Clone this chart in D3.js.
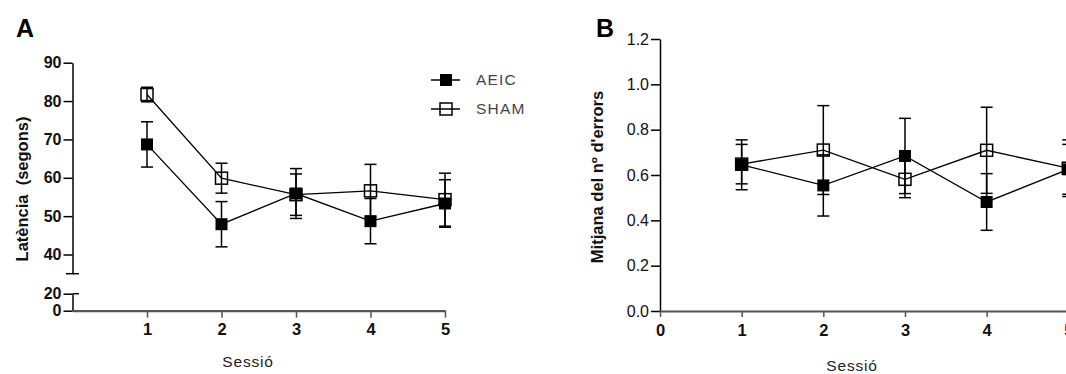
<!DOCTYPE html>
<html>
<head>
<meta charset="utf-8">
<script src="https://cdn.jsdelivr.net/npm/d3@7"></script>
<style>
  body { margin: 0; background: #fff; }
  svg { display: block; font-family: Arial, "Liberation Sans", Helvetica, sans-serif; }
  .axis text { fill: #111; }
</style>
</head>
<body>
<svg width="1066" height="374"></svg>
<script>
// sessions and group means (+/- SEM)
const sessions = [1, 2, 3, 4, 5];

const aeicLat = [68.7, 47.9, 55.9, 48.7, 53.3];
const aeicLatSem = [5.9, 5.9, 6.5, 5.9, 6.2];
const shamLat = [81.7, 59.9, 55.6, 56.6, 54.3];
const shamLatSem = [1.9, 3.9, 5.4, 6.9, 6.9];

const aeicErr = [0.645, 0.554, 0.684, 0.481, 0.625];
const aeicErrSem = [0.11, 0.135, 0.166, 0.125, 0.11];
const shamErr = [0.648, 0.710, 0.581, 0.709, 0.63];
const shamErrSem = [0.087, 0.196, 0.081, 0.19, 0.125];

const latTicksHi = [40, 50, 60, 70, 80, 90];
const latTicksLo = [0, 20];
const errTicks = [0, 0.2, 0.4, 0.6, 0.8, 1.0, 1.2];
const groups = ["AEIC", "SHAM"];

const svg = d3.select("svg");
const axisGrey = "#555";

function series(vals, sems) {
  return sessions.map((s, i) => ({ s: s, v: vals[i], e: sems[i] }));
}

// draws error bars, connecting line and squares for one group
function drawGroup(g, data, x, y, filled) {
  const eb = g.append("g");
  data.forEach(d => {
    eb.append("line").attr("x1", x(d.s)).attr("x2", x(d.s))
      .attr("y1", y(d.v - d.e)).attr("y2", y(d.v + d.e))
      .attr("stroke", "#000").attr("stroke-width", 1.5);
    [d.v - d.e, d.v + d.e].forEach(c => {
      eb.append("line").attr("x1", x(d.s) - 6).attr("x2", x(d.s) + 6)
        .attr("y1", y(c)).attr("y2", y(c))
        .attr("stroke", "#000").attr("stroke-width", 1.5);
    });
  });
  g.append("path").datum(data)
    .attr("fill", "none").attr("stroke", "#000").attr("stroke-width", 1.3)
    .attr("d", d3.line().x(d => x(d.s)).y(d => y(d.v)));
  g.selectAll(".pt").data(data).enter().append("rect")
    .attr("class", "pt")
    .attr("x", d => x(d.s) - 6).attr("y", d => y(d.v) - 6)
    .attr("width", 12).attr("height", 12)
    .attr("fill", filled ? "#000" : "none")
    .attr("stroke", "#000").attr("stroke-width", filled ? 0 : 1.5);
}

function styleAxis(sel, col, w) {
  sel.select(".domain").attr("stroke", col).attr("stroke-width", w);
  sel.selectAll(".tick line").attr("stroke", col).attr("stroke-width", 1.5);
}

// ---------- panel A: latency ----------
const xA = d3.scaleLinear().domain([0, 5]).range([72.5, 445]);
const yHi = d3.scaleLinear().domain([35, 90]).range([273.7, 62.7]);
const yLo = d3.scaleLinear().domain([0, 20]).range([310.7, 293.7]);

const yLat = v => v >= 35 ? yHi(v) : yLo(v);

const gA = svg.append("g");

gA.append("g").attr("class", "axis")
  .attr("transform", "translate(72.5,0)")
  .call(d3.axisLeft(yHi).tickValues(latTicksHi).tickSize(9).tickSizeOuter(0).tickPadding(2))
  .call(s => styleAxis(s, "#000", 1.5))
  .call(s => s.selectAll("text").attr("font-size", 16).attr("font-weight", "bold"));

gA.append("g").attr("class", "axis")
  .attr("transform", "translate(72.5,0)")
  .call(d3.axisLeft(yLo).tickValues(latTicksLo).tickSize(9).tickSizeOuter(0).tickPadding(2))
  .call(s => styleAxis(s, "#000", 1.5))
  .call(s => s.selectAll("text").attr("font-size", 16).attr("font-weight", "bold"));

// break marks on the y axis
gA.append("line").attr("x1", 66).attr("x2", 79)
  .attr("y1", yHi(35)).attr("y2", yHi(35)).attr("stroke", "#000").attr("stroke-width", 1.5);
gA.append("line").attr("x1", 72.5).attr("x2", 79)
  .attr("y1", yLo(20)).attr("y2", yLo(20)).attr("stroke", "#000").attr("stroke-width", 1.5);

gA.append("g").attr("class", "axis")
  .attr("transform", "translate(0," + yLo(0) + ")")
  .call(d3.axisBottom(xA).tickValues(sessions).tickFormat(d3.format("d"))
    .tickSize(7).tickSizeOuter(0).tickPadding(6))
  .call(s => styleAxis(s, axisGrey, 2.2))
  .call(s => s.selectAll("text").attr("font-size", 16.5).attr("font-weight", "bold"));

gA.append("text").attr("transform", "translate(22,189) rotate(-90)")
  .attr("text-anchor", "middle").attr("dy", "0.35em")
  .attr("font-size", 16.5).attr("font-weight", "bold").attr("fill", "#111")
  .attr("xml:space", "preserve")
  .text("Latència  (segons)");

gA.append("text").attr("x", 248).attr("y", 362).attr("dy", "0.35em")
  .attr("text-anchor", "middle").attr("font-size", 15.5).attr("fill", "#222")
  .attr("letter-spacing", 0.8)
  .text("Sessió");

gA.append("text").attr("x", 25).attr("y", 28).attr("dy", "0.35em")
  .attr("text-anchor", "middle").attr("font-size", 25).attr("font-weight", "bold")
  .text("A");

drawGroup(gA.append("g"), series(shamLat, shamLatSem), xA, yLat, false);
drawGroup(gA.append("g"), series(aeicLat, aeicLatSem), xA, yLat, true);

// legend
const leg = gA.append("g").attr("transform", "translate(446,80)");
groups.forEach((name, i) => {
  const row = leg.append("g").attr("transform", "translate(0," + i * 29 + ")");
  row.append("line").attr("x1", -15).attr("x2", 14)
    .attr("stroke", "#000").attr("stroke-width", 1.5);
  row.append("rect").attr("x", -6).attr("y", -6).attr("width", 12).attr("height", 12)
    .attr("fill", i === 0 ? "#000" : "none")
    .attr("stroke", "#000").attr("stroke-width", i === 0 ? 0 : 1.5);
  row.append("text").attr("x", 30).attr("dy", "0.35em")
    .attr("font-size", 15.5).attr("fill", "#444").attr("letter-spacing", 1.2)
    .text(name);
});

// ---------- panel B: errors ----------
const xB = d3.scaleLinear().domain([0, 5]).range([660, 1068.3]);
const yB = d3.scaleLinear().domain([0, 1.2]).range([311, 39]);

const gB = svg.append("g");

gB.append("g").attr("class", "axis")
  .attr("transform", "translate(660,0)")
  .call(d3.axisLeft(yB).tickValues(errTicks).tickFormat(d3.format(".1f"))
    .tickSize(9).tickSizeOuter(0).tickPadding(2))
  .call(s => styleAxis(s, "#000", 1.5))
  .call(s => s.selectAll("text").attr("font-size", 16).attr("font-weight", 500));

gB.append("g").attr("class", "axis")
  .attr("transform", "translate(0," + yB(0) + ")")
  .call(d3.axisBottom(xB).tickValues([0].concat(sessions)).tickFormat(d3.format("d"))
    .tickSize(6).tickSizeOuter(0).tickPadding(7))
  .call(s => styleAxis(s, axisGrey, 2.2))
  .call(s => s.selectAll("text").attr("font-size", 16.5).attr("font-weight", "bold"));

gB.append("text").attr("transform", "translate(597,177) rotate(-90)")
  .attr("text-anchor", "middle").attr("dy", "0.35em")
  .attr("font-size", 16.5).attr("font-weight", "bold").attr("fill", "#111")
  .text("Mitjana del nº d'errors");

gB.append("text").attr("x", 852).attr("y", 366).attr("dy", "0.35em")
  .attr("text-anchor", "middle").attr("font-size", 15.5).attr("fill", "#222")
  .attr("letter-spacing", 0.8)
  .text("Sessió");

gB.append("text").attr("x", 605).attr("y", 28).attr("dy", "0.35em")
  .attr("text-anchor", "middle").attr("font-size", 25).attr("font-weight", "bold")
  .text("B");

drawGroup(gB.append("g"), series(shamErr, shamErrSem), xB, yB, false);
drawGroup(gB.append("g"), series(aeicErr, aeicErrSem), xB, yB, true);
</script>
</body>
</html>
